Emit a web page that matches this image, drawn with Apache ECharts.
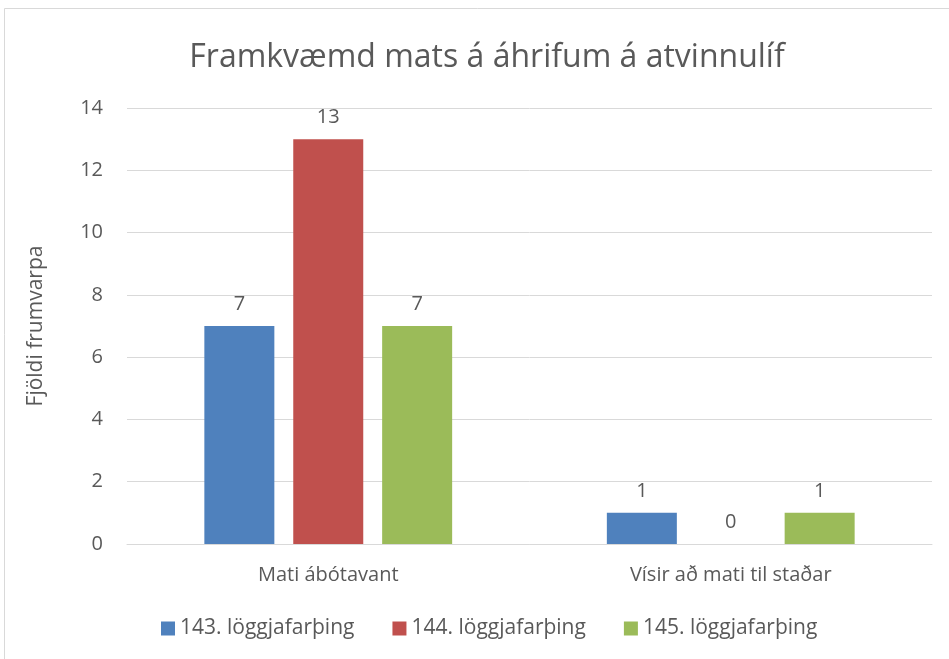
<!DOCTYPE html>
<html>
<head>
<meta charset="utf-8">
<script src="https://cdn.jsdelivr.net/npm/echarts@6/dist/echarts.min.js"></script>
<style>
  html, body { margin: 0; padding: 0; background: #fff; }
  #chart { width: 949px; height: 659px; }
</style>
</head>
<body>
<div id="chart"></div>
<script>
const categories = ['Mati ábótavant', 'Vísir að mati til staðar']
const seriesNames = ['143. löggjafarþing', '144. löggjafarþing', '145. löggjafarþing']
const values143 = [7, 1]
const values144 = [13, 0]
const values145 = [7, 1]
const colors = ['#4f81bd', '#c0504d', '#9bbb59']

const font = '"Open Sans", "Noto Sans", sans-serif'
const textGray = '#595959'

const chart = echarts.init(document.getElementById('chart'))

const makeSeries = (name, data, color) => ({
  name,
  type: 'bar',
  data,
  barWidth: 70,
  barGap: '27%',
  itemStyle: { color },
  label: {
    show: true,
    position: 'top',
    distance: 12,
    color: textGray,
    fontFamily: font,
    fontSize: 20
  }
})

chart.setOption({
  animation: false,
  title: {
    text: 'Framkvæmd mats á áhrifum á atvinnulíf',
    left: 482,
    textAlign: 'center',
    top: 37,
    textStyle: {
      color: textGray,
      fontFamily: font,
      fontSize: 32,
      fontWeight: 'normal'
    }
  },
  graphic: [{
    type: 'rect',
    shape: { x: 4.5, y: 8.5, width: 1000, height: 700 },
    style: { fill: 'none', stroke: '#d9d9d9', lineWidth: 1 },
    silent: true
  }],
  legend: {
    bottom: 15,
    left: 156,
    itemWidth: 14,
    itemHeight: 14,
    itemGap: 38,
    icon: 'rect',
    textStyle: { color: textGray, fontFamily: font, fontSize: 21 },
    data: seriesNames
  },
  grid: {
    left: 127,
    right: 17,
    top: 108,
    bottom: 115
  },
  xAxis: {
    type: 'category',
    data: categories,
    axisLine: { lineStyle: { color: '#d9d9d9', width: 1 } },
    axisTick: { show: false },
    axisLabel: {
      color: textGray,
      fontFamily: font,
      fontSize: 20,
      margin: 21
    }
  },
  yAxis: {
    type: 'value',
    min: 0,
    max: 14,
    interval: 2,
    name: 'Fjöldi frumvarpa',
    nameLocation: 'middle',
    nameGap: 80,
    nameTextStyle: { color: textGray, fontFamily: font, fontSize: 21 },
    axisLine: { show: false },
    axisTick: { show: false },
    axisLabel: {
      color: textGray,
      fontFamily: font,
      fontSize: 20,
      margin: 24
    },
    splitLine: { lineStyle: { color: '#d9d9d9', width: 1 } }
  },
  series: [
    makeSeries(seriesNames[0], values143, colors[0]),
    makeSeries(seriesNames[1], values144, colors[1]),
    makeSeries(seriesNames[2], values145, colors[2])
  ]
})
</script>
</body>
</html>
